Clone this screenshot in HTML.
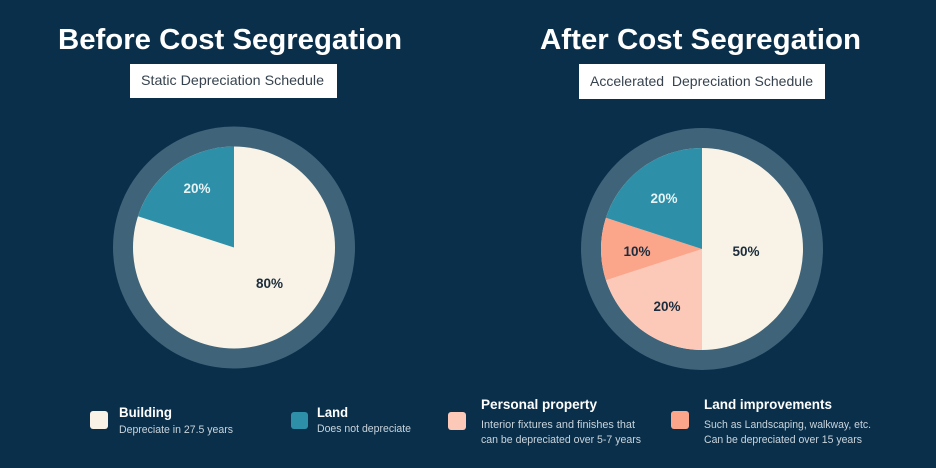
<!DOCTYPE html>
<html>
<head>
<meta charset="utf-8">
<style>
html,body{margin:0;padding:0;background:#0a2f4a;}
svg{display:block;}
text{font-family:"Liberation Sans",sans-serif;}
</style>
</head>
<body>
<svg width="936" height="468" viewBox="0 0 936 468" xmlns="http://www.w3.org/2000/svg">
<rect x="0" y="0" width="936" height="468" fill="#0a2f4a"/>

<!-- Titles -->
<text x="58" y="49" font-size="29" font-weight="bold" fill="#ffffff" textLength="344" lengthAdjust="spacingAndGlyphs">Before Cost Segregation</text>
<text x="540" y="49" font-size="29" font-weight="bold" fill="#ffffff" textLength="321" lengthAdjust="spacingAndGlyphs">After Cost Segregation</text>

<!-- Subtitle boxes -->
<rect x="130" y="64" width="207" height="34" fill="#ffffff"/>
<text x="141" y="85" font-size="14" fill="#36434f" textLength="183" lengthAdjust="spacingAndGlyphs">Static Depreciation Schedule</text>
<rect x="579" y="64" width="246" height="35" fill="#ffffff"/>
<text x="590" y="86" font-size="14" fill="#36434f" textLength="223" lengthAdjust="spacingAndGlyphs" xml:space="preserve">Accelerated  Depreciation Schedule</text>

<!-- Left pie -->
<circle cx="234" cy="247.5" r="121" fill="#3f6379"/>
<circle cx="234" cy="247.5" r="101" fill="#f8f3e6"/>
<path d="M234,247.5 L234,146.5 A101,101 0 0,0 137.94,216.3 Z" fill="#2e8fa8"/>
<text x="197" y="193" font-size="13.5" font-weight="bold" fill="#e6f3f5" text-anchor="middle">20%</text>
<text x="269.5" y="288" font-size="13.5" font-weight="bold" fill="#1c2c3c" text-anchor="middle">80%</text>

<!-- Right pie -->
<circle cx="702" cy="249" r="121" fill="#3f6379"/>
<circle cx="702" cy="249" r="101" fill="#f8f3e6"/>
<path d="M702,249 L702,350 A101,101 0 0,1 605.94,280.2 Z" fill="#fcc9b8"/>
<path d="M702,249 L605.94,280.2 A101,101 0 0,1 605.94,217.8 Z" fill="#fba58b"/>
<path d="M702,249 L605.94,217.8 A101,101 0 0,1 702,148 Z" fill="#2e8fa8"/>
<text x="664" y="203" font-size="13.5" font-weight="bold" fill="#e6f3f5" text-anchor="middle">20%</text>
<text x="637" y="256" font-size="13.5" font-weight="bold" fill="#1c2c3c" text-anchor="middle">10%</text>
<text x="746" y="256" font-size="13.5" font-weight="bold" fill="#1c2c3c" text-anchor="middle">50%</text>
<text x="667" y="311" font-size="13.5" font-weight="bold" fill="#1c2c3c" text-anchor="middle">20%</text>

<!-- Legend -->
<rect x="90" y="411" width="18" height="18" rx="3" fill="#f8f3e6"/>
<text x="119" y="417" font-size="14" font-weight="bold" fill="#ffffff" textLength="53" lengthAdjust="spacingAndGlyphs">Building</text>
<text x="119" y="433" font-size="11" fill="#c9d4dc" textLength="114" lengthAdjust="spacingAndGlyphs">Depreciate in 27.5 years</text>

<rect x="291" y="412" width="17" height="17" rx="3" fill="#2e8fa8"/>
<text x="317" y="417" font-size="14" font-weight="bold" fill="#ffffff" textLength="31" lengthAdjust="spacingAndGlyphs">Land</text>
<text x="317" y="432" font-size="11" fill="#c9d4dc" textLength="94" lengthAdjust="spacingAndGlyphs">Does not depreciate</text>

<rect x="448" y="412" width="18" height="18" rx="3" fill="#fcc9b8"/>
<text x="481" y="409" font-size="14" font-weight="bold" fill="#ffffff" textLength="116" lengthAdjust="spacingAndGlyphs">Personal property</text>
<text x="481" y="428" font-size="11" fill="#c9d4dc" textLength="154" lengthAdjust="spacingAndGlyphs">Interior fixtures and finishes that</text>
<text x="481" y="443" font-size="11" fill="#c9d4dc" textLength="160" lengthAdjust="spacingAndGlyphs">can be depreciated over 5-7 years</text>

<rect x="671" y="411" width="18" height="18" rx="3" fill="#fba58b"/>
<text x="704" y="409" font-size="14" font-weight="bold" fill="#ffffff" textLength="128" lengthAdjust="spacingAndGlyphs">Land improvements</text>
<text x="704" y="428" font-size="11" fill="#c9d4dc" textLength="167" lengthAdjust="spacingAndGlyphs">Such as Landscaping, walkway, etc.</text>
<text x="704" y="443" font-size="11" fill="#c9d4dc" textLength="158" lengthAdjust="spacingAndGlyphs">Can be depreciated over 15 years</text>
</svg>
</body>
</html>
